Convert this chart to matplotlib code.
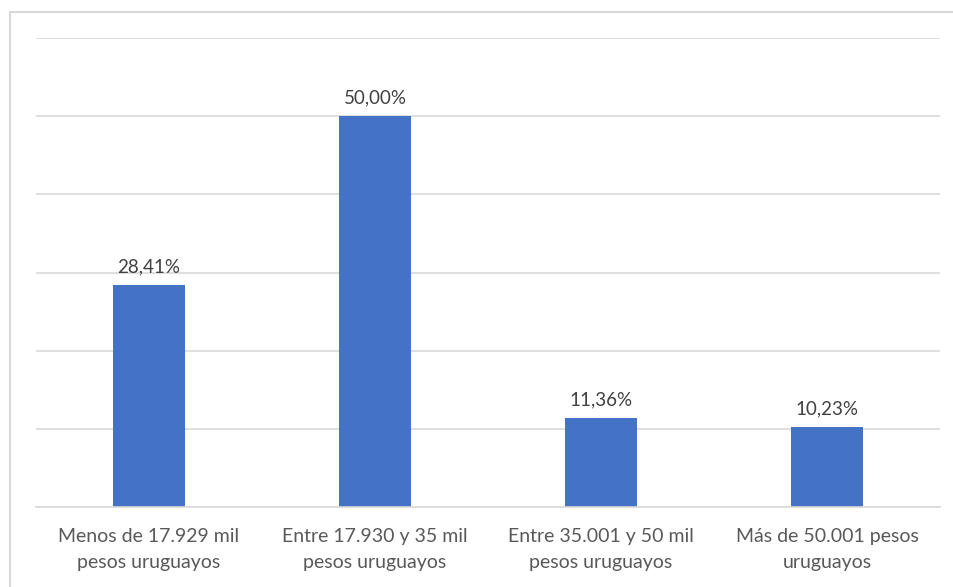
import matplotlib.pyplot as plt
from matplotlib.patches import Rectangle

categories = [
    "Menos de 17.929 mil\npesos uruguayos",
    "Entre 17.930 y 35 mil\npesos uruguayos",
    "Entre 35.001 y 50 mil\npesos uruguayos",
    "Más de 50.001 pesos\nuruguayos",
]
values = [28.41, 50.00, 11.36, 10.23]
labels = ["28,41%", "50,00%", "11,36%", "10,23%"]

plt.rcParams['font.family'] = ['Lato', 'DejaVu Sans']

fig = plt.figure(figsize=(9.54, 5.87), dpi=100)
fig.patches.append(Rectangle((10 / 954, -0.1), 1.2, 1 - 12 / 587 + 0.1,
                             transform=fig.transFigure, fill=False,
                             edgecolor="#d9d9d9", linewidth=1.5))

ax = fig.add_axes([36 / 954, 1 - 507 / 587, (940 - 36) / 954, (507 - 38) / 587])
x = range(len(values))
bars = ax.bar(x, values, width=0.32, color="#4472c4", zorder=2)

ax.set_xlim(-0.5, 3.5)
ax.set_ylim(0, 60)
ax.set_yticks(range(0, 61, 10))
ax.yaxis.grid(True, color="#d9d9d9", linewidth=1.2, zorder=0)
ax.tick_params(axis="y", left=False, labelleft=False)
ax.tick_params(axis="x", length=0, pad=15, labelsize=14, labelcolor="#595959")
ax.set_xticks(list(x))
ax.set_xticklabels(categories, linespacing=1.68)
for s in ["top", "right", "left"]:
    ax.spines[s].set_visible(False)
ax.spines["bottom"].set_color("#d9d9d9")
ax.spines["bottom"].set_linewidth(1.2)

for b, lab in zip(bars, labels):
    ax.annotate(lab, (b.get_x() + b.get_width() / 2, b.get_height()),
                xytext=(0, 7), textcoords="offset points", ha="center",
                va="bottom", fontsize=13.5, color="#404040")

fig.savefig("out.png", dpi=100, facecolor="white")
